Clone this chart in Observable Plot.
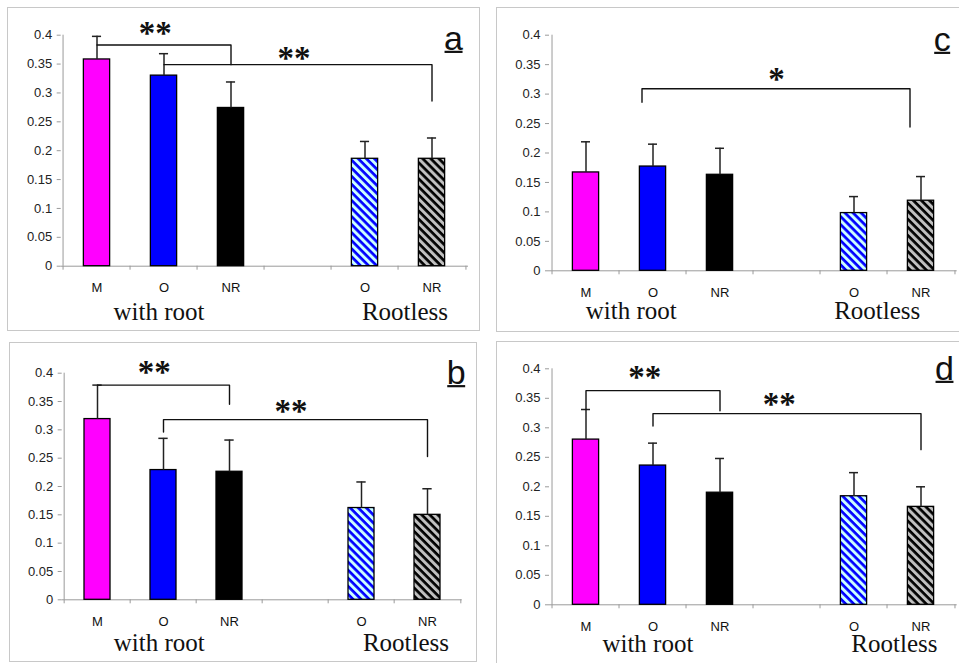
<!DOCTYPE html>
<html><head><meta charset="utf-8">
<script src="https://cdn.jsdelivr.net/npm/d3@7"></script>
<script src="https://cdn.jsdelivr.net/npm/@observablehq/plot@0.6"></script>
<style>
html,body{margin:0;padding:0;background:#fff;}
#chart{position:relative;width:959px;height:663px;overflow:hidden;background:#fff;}
.frame{position:absolute;border:1px solid #c8c8c8;box-sizing:border-box;}
</style></head><body>
<svg width="0" height="0" style="position:absolute">
  <defs>
    <pattern id="hatchBlue" patternUnits="userSpaceOnUse" width="5.7" height="5.7" patternTransform="rotate(45)">
      <rect width="5.7" height="5.7" fill="#ccffff"></rect>
      <rect width="5.7" height="2.7" fill="#0000ff"></rect>
    </pattern>
    <pattern id="hatchBlack" patternUnits="userSpaceOnUse" width="5.7" height="5.7" patternTransform="rotate(45)">
      <rect width="5.7" height="5.7" fill="#c0c0c0"></rect>
      <rect width="5.7" height="2.7" fill="#000000"></rect>
    </pattern>
  </defs>
</svg>
<div id="chart"></div>
<script>
// ---------------- data ----------------
const categories = ["M", "O", "NR", "O", "NR"];
const catKeys = ["M", "O", "NR", "rO", "rNR"];
const axisSlots = ["M", "O", "NR", "gap", "rO", "rNR"];
const groupNames = ["with root", "Rootless"];
const yTicks = [0, 0.05, 0.1, 0.15, 0.2, 0.25, 0.3, 0.35, 0.4];

const meansA = [0.358, 0.330, 0.274, 0.186, 0.186];
const seA    = [0.040, 0.038, 0.045, 0.030, 0.036];
const meansB = [0.319, 0.229, 0.226, 0.162, 0.150];
const seB    = [0.060, 0.056, 0.056, 0.046, 0.046];
const meansC = [0.167, 0.177, 0.163, 0.098, 0.119];
const seC    = [0.052, 0.038, 0.045, 0.028, 0.041];
const meansD = [0.280, 0.236, 0.190, 0.184, 0.166];
const seD    = [0.051, 0.038, 0.058, 0.040, 0.034];

const brFromA = ["M", "O"], brToA = ["NR", "rNR"], brLevelA = [0.383, 0.349], brLeftA = [0.383, 0.349], brRightA = [0.349, 0.286], brStarsA = ["**", "**"];
const brFromB = ["M", "O"], brToB = ["NR", "rNR"], brLevelB = [0.379, 0.318], brLeftB = [0.379, 0.296], brRightB = [0.345, 0.253], brStarsB = ["**", "**"];
const brFromC = ["O"], brToC = ["rNR"], brLevelC = [0.309], brLeftC = [0.286], brRightC = [0.244], brStarsC = ["*"];
const brFromD = ["M", "O"], brToD = ["NR", "rNR"], brLevelD = [0.363, 0.324], brLeftD = [0.331, 0.303], brRightD = [0.329, 0.263], brStarsD = ["**", "**"];

// ---------------- styles ----------------
const fillFor = {M: "#ff00ff", O: "#0000ff", NR: "#000000", rO: "url(#hatchBlue)", rNR: "url(#hatchBlack)"};
const labelFor = Object.fromEntries(catKeys.map((k, i) => [k, categories[i]]));

const panels = [
  {label: "a", means: meansA, se: seA, br: [brFromA, brToA, brLevelA, brLeftA, brRightA, brStarsA],
   frame: [7, 7, 473, 324], size: [473, 324], m: [27.7, 12, 65.3, 53.7],
   labelD: [-15, 14.3], groupDx: [-5, 40], groupDy: 53.6, starOff: [17, 11.5], starDx: [-9.7, -5.7], brDx: 0},
  {label: "b", means: meansB, se: seB, br: [brFromB, brToB, brLevelB, brLeftB, brRightB, brStarsB],
   frame: [9, 342, 468, 320], size: [468, 320], m: [30.7, 15.3, 62.7, 52.7],
   labelD: [-6, 10.6], groupDx: [-4.2, 44.5], groupDy: 51.4, starOff: [17.6, 13.2], starDx: [-10, -5.8], brDx: 0},
  {label: "c", means: meansC, se: seC, br: [brFromC, brToC, brLevelC, brLeftC, brRightC, brStarsC],
   frame: [496, 7, 520, 325], size: [463, 325], m: [27.7, 2.3, 61.7, 53],
   labelD: [-15, 15.3], groupDx: [-21.7, 23.2], groupDy: 48, starOff: [14], starDx: [-12.3], brDx: -11},
  {label: "d", means: meansD, se: seD, br: [brFromD, brToD, brLevelD, brLeftD, brRightD, brStarsD],
   frame: [496, 341, 520, 340], size: [463, 322], m: [27.3, 2.3, 58.7, 53],
   labelD: [-12.7, 10.7], groupDx: [-5.1, 40.4], groupDy: 47.2, starOff: [18.6, 14], starDx: [-9.2, -9.6], brDx: 0}
];

const chart = document.getElementById("chart");
const axisGray = "#9a9a9a";
const starSize = 33;

for (const p of panels) {
  const fr = document.createElement("div");
  fr.className = "frame";
  Object.assign(fr.style, {left: p.frame[0] + "px", top: p.frame[1] + "px", width: p.frame[2] + "px", height: p.frame[3] + "px"});
  chart.appendChild(fr);

  const [W, H] = p.size;
  const [mt, mr, mb, ml] = p.m;
  const bw = (W - ml - mr) / axisSlots.length;
  const rows = catKeys.map((k, i) => ({key: k, mean: p.means[i], se: p.se[i]}));
  const [bFrom, bTo, bLevel, bLeft, bRight, bStars] = p.br;
  const brackets = bFrom.map((f, i) => ({id: i, from: f, to: bTo[i], level: bLevel[i], left: bLeft[i], right: bRight[i], stars: bStars[i]}));
  const bracketPts = brackets.flatMap(b => [
    {id: b.id, x: b.from, y: b.left}, {id: b.id, x: b.from, y: b.level},
    {id: b.id, x: b.to, y: b.level}, {id: b.id, x: b.to, y: b.right}
  ]);
  const capInset = (bw - 10) / 2;

  const starMarks = brackets.map((b, i) => Plot.text([b], {
    x: "from", y: "level", text: "stars",
    dx: (axisSlots.indexOf(b.to) - axisSlots.indexOf(b.from)) * bw / 2 + p.starDx[i],
    dy: -p.starOff[i] + 0.15 * starSize,
    fontFamily: "Liberation Serif", fontWeight: "bold", fontSize: starSize, fill: "#111", lineAnchor: "middle"
  }));

  const svg = Plot.plot({
    width: W, height: H,
    marginTop: mt, marginRight: mr, marginBottom: mb, marginLeft: ml,
    style: {position: "absolute", left: p.frame[0] + "px", top: p.frame[1] + "px", overflow: "visible",
            fontFamily: "Liberation Sans, Arial, sans-serif", fontSize: "13px", background: "transparent"},
    x: {type: "band", domain: axisSlots, padding: 0, label: null},
    y: {domain: [0, 0.4], label: null},
    color: {type: "identity"},
    marks: [
      Plot.ruleY([0], {stroke: axisGray, strokeWidth: 1}),
      Plot.ruleX([axisSlots[0]], {dx: -bw / 2, y1: 0, y2: 0.4, stroke: axisGray, strokeWidth: 1}),
      Plot.axisY(yTicks, {tickSize: 4, tickPadding: 5, tickFormat: d => String(d), stroke: axisGray, fill: "#222", fontSize: 13, label: null}),
      Plot.axisX(axisSlots, {tickSize: 4, tickFormat: () => "", dx: -bw / 2, stroke: axisGray, label: null}),
      Plot.axisX([axisSlots[axisSlots.length - 1]], {tickSize: 4, tickFormat: () => "", dx: bw / 2, stroke: axisGray, label: null}),
      Plot.axisX(catKeys, {tickSize: 0, tickPadding: 17, tickFormat: k => labelFor[k], fill: "#111", fontSize: 13, label: null}),
      Plot.barY(rows, {x: "key", y: "mean", fill: d => fillFor[d.key], stroke: "#000", strokeWidth: 1.3, insetLeft: bw * 0.3, insetRight: bw * 0.3}),
      Plot.ruleX(rows, {x: "key", y1: "mean", y2: d => d.mean + d.se, stroke: "#222", strokeWidth: 1.5}),
      Plot.tickY(rows, {x: "key", y: d => d.mean + d.se, stroke: "#222", strokeWidth: 1.5, insetLeft: capInset, insetRight: capInset}),
      Plot.line(bracketPts, {x: "x", y: "y", z: "id", stroke: "#111", strokeWidth: 1.4, dx: p.brDx, curve: "linear"}),
      ...starMarks,
      Plot.text([groupNames[0]], {x: () => "O", text: d => d, frameAnchor: "bottom", dx: p.groupDx[0], dy: p.groupDy, lineAnchor: "bottom",
        fontFamily: "Liberation Serif", fontSize: 25, fill: "#111"}),
      Plot.text([groupNames[1]], {x: () => "rO", text: d => d, frameAnchor: "bottom", dx: p.groupDx[1], dy: p.groupDy, lineAnchor: "bottom",
        fontFamily: "Liberation Serif", fontSize: 25, fill: "#111"}),
      Plot.text([p.label], {text: d => d, frameAnchor: "top-right", dx: p.labelD[0], dy: p.labelD[1], lineAnchor: "bottom",
        textAnchor: "middle", fontFamily: "Liberation Sans", fontSize: 34, fill: "#111"})
    ]
  });
  chart.appendChild(svg);

  // underline the panel letter, measured from its rendered text box
  const NS = "http://www.w3.org/2000/svg";
  svg.querySelectorAll('g[font-size="34"] text').forEach(t => {
    if (t.textContent !== p.label) return;
    const bb = t.getBBox();
    const m = t.getCTM();
    const inv = svg.getCTM ? svg.getCTM().inverse() : null;
    const ctm = inv ? inv.multiply(m) : m;
    const x0 = ctm.a * bb.x + ctm.e, x1 = ctm.a * (bb.x + bb.width) + ctm.e;
    const yb = ctm.d * (bb.y + 0.905 * 34) + ctm.f + 2.6;
    const ln = document.createElementNS(NS, "line");
    ln.setAttribute("x1", x0 + 0.5); ln.setAttribute("x2", x1 - 0.5);
    ln.setAttribute("y1", yb); ln.setAttribute("y2", yb);
    ln.setAttribute("stroke", "#111"); ln.setAttribute("stroke-width", "2.2");
    svg.appendChild(ln);
  });
}
</script>
</body></html>
